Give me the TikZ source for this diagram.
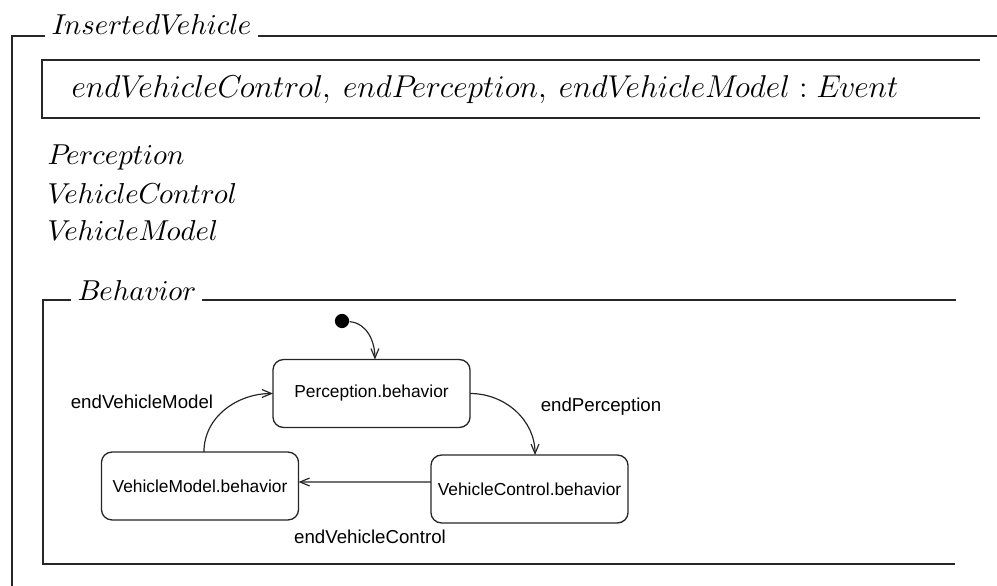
\documentclass[tikz,border=0pt]{standalone}
\usepackage{fontspec}
\newfontfamily\statefont{Liberation Sans}
\usetikzlibrary{arrows.meta}
\newcommand{\zid}[1]{\mbox{\fontencoding{OML}\fontfamily{cmm}\fontseries{m}\fontshape{it}\selectfont #1}}
\newcommand{\zsep}{,\mskip 4mu}
\begin{document}
\begin{tikzpicture}[x=0.38pt,y=-0.38pt,
  frame/.style={line width=0.55pt, draw=black!85},
  statebox/.style={draw=black!85, line width=0.5pt, rounded corners=4pt, minimum width=74.9pt, minimum height=25.8pt, inner sep=0pt, outer sep=0pt, font=\statefont\fontsize{6.6}{8}\selectfont},
  lbl/.style={inner sep=0pt, font=\statefont\fontsize{7.1}{8.5}\selectfont},
  ztext/.style={inner sep=0pt, anchor=base west, font=\fontsize{11.3}{13.5}\selectfont},
  decltext/.style={ztext, font=\fontsize{11.5}{14}\selectfont},
  arr/.style={draw=black!85, line width=0.45pt, -{Straight Barb[length=3.6pt,width=3pt]}}]
\useasboundingbox (0,0) rectangle (997,586);
% outer schema frame
\coordinate (o) at (12,36);
\node[ztext] (title) at (51,35) {\zid{InsertedVehicle}};
\draw[frame] ([xshift=-2.2pt]title.west |- o) -- (o) -- (12,586);
\draw[frame] ([xshift=2.2pt]title.east |- o) -- (997,36);
% declaration box
\draw[frame] (980,60) -- (42,60) -- (42,118) -- (980,118);
\node[decltext] (decl) at (71,98) {$\zid{endVehicleControl}\zsep\zid{endPerception}\zsep\zid{endVehicleModel} : \zid{Event}$};
% components
\node[ztext] (c1) at (47,165) {\zid{Perception}};
\node[ztext] (c2) at (47,203) {\zid{VehicleControl}};
\node[ztext] (c3) at (47,241) {\zid{VehicleModel}};
% behavior frame
\coordinate (b) at (43,300);
\node[ztext] (btitle) at (77,300) {\zid{Behavior}};
\draw[frame] ([xshift=-2.2pt]btitle.west |- b) -- (b) -- (43,564) -- (955,564);
\draw[frame] ([xshift=2.2pt]btitle.east |- b) -- (956,300);
% states
\node[statebox] (P) at (371.5,393.5) {Perception.behavior};
\node[statebox] (VM) at (200,486) {VehicleModel.behavior};
\node[statebox] (VC) at (529.5,489) {VehicleControl.behavior};
\node[circle, fill=black, inner sep=0pt, minimum size=5.4pt] (init) at (342,321) {};
% transitions
\draw[arr] (init) to[out=-5,in=90] ([xshift=1.3pt]P.north);
\draw[arr] ([xshift=1.5pt]VM.north) to[out=90,in=180] (P.west);
\draw[arr] (P.east) to[out=0,in=90] ([xshift=2.1pt]VC.north);
\draw[arr] ([yshift=2.66pt]VC.west) -- ([yshift=1.52pt]VM.east);
% labels
\node[lbl] (l1) at (142,402) {endVehicleModel};
\node[lbl] (l2) at (601,407) {endPerception};
\node[lbl] (l3) at (370,537) {endVehicleControl};
\end{tikzpicture}
\end{document}
